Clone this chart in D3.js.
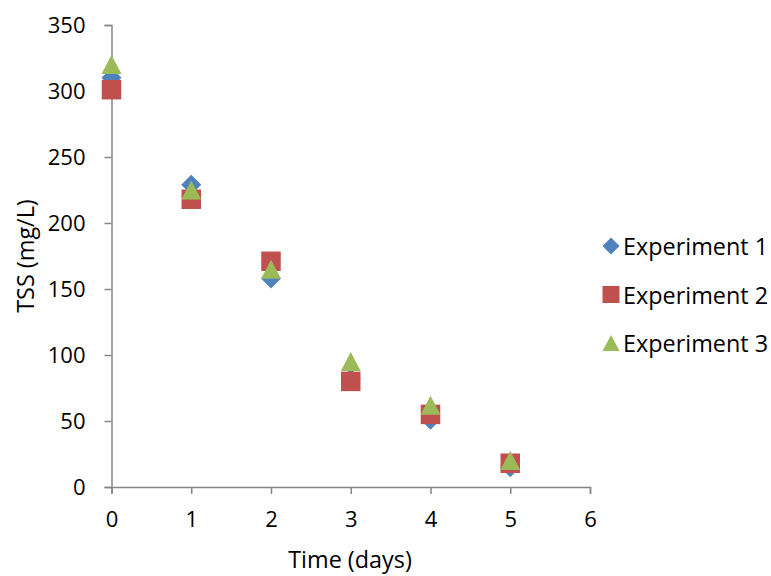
<!DOCTYPE html>
<html>
<head>
<meta charset="utf-8">
<style>
body { margin: 0; background: #ffffff; }
.tick text { font-family: "Open Sans", Arial, sans-serif; font-size: 22px; fill: #000; }
.lbl { font-family: "Open Sans", Arial, sans-serif; font-size: 23.4px; fill: #000; }
</style>
<script src="https://d3js.org/d3.v7.min.js"></script>
</head>
<body>
<script>
var days = [0, 1, 2, 3, 4, 5];
var exp1 = [310, 229, 158, 82, 51, 15];
var exp2 = [301, 218, 171, 80, 55, 18];
var exp3 = [320, 225, 165, 95, 62, 20];
var seriesNames = ["Experiment 1", "Experiment 2", "Experiment 3"];
var xTicks = [0, 1, 2, 3, 4, 5, 6];
var yTicks = [0, 50, 100, 150, 200, 250, 300, 350];

var width = 771, height = 576;
var colors = ["#4f81bd", "#c0504d", "#9bbb59"];

// excel-like markers, size = w*w where w is the marker width in px
var diamond = { draw: function(c, size) {
  var r = Math.sqrt(size) / 2;
  c.moveTo(0, -r); c.lineTo(r, 0); c.lineTo(0, r); c.lineTo(-r, 0); c.closePath();
}};
var square = { draw: function(c, size) {
  var r = Math.sqrt(size) / 2;
  c.rect(-r, -r, 2 * r, 2 * r);
}};
var triangle = { draw: function(c, size) {
  var r = Math.sqrt(size) / 2, h = r * 0.95;
  c.moveTo(0, -h); c.lineTo(r, h); c.lineTo(-r, h); c.closePath();
}};
var symbols = [diamond, square, triangle];
var widths = [20, 19.5, 20];

var svg = d3.select("body").append("svg")
  .attr("width", width).attr("height", height);

var x = d3.scaleLinear().domain([0, 6]).range([111.5, 590]);
var y = d3.scaleLinear().domain([0, 350]).range([487, 25]);

var xAxis = svg.append("g")
  .attr("transform", "translate(0," + y(0) + ")")
  .call(d3.axisBottom(x).tickValues(xTicks).tickSize(7).tickPadding(17).tickFormat(d3.format("d")));
var yAxis = svg.append("g")
  .attr("transform", "translate(" + x(0) + ",0)")
  .call(d3.axisLeft(y).tickValues(yTicks).tickSize(7).tickPadding(19).tickFormat(d3.format("d")));

[xAxis, yAxis].forEach(function(a) {
  a.select(".domain").attr("stroke", "#868686").attr("stroke-width", 1.5);
  a.selectAll(".tick line").attr("stroke", "#868686").attr("stroke-width", 1.5);
});

svg.append("text").attr("class", "lbl")
  .attr("x", 350).attr("y", 568)
  .attr("text-anchor", "middle")
  .text("Time (days)");

svg.append("text").attr("class", "lbl")
  .attr("transform", "translate(34,256) rotate(-90)")
  .attr("text-anchor", "middle")
  .text("TSS (mg/L)");

var allSeries = [exp1, exp2, exp3];

allSeries.forEach(function(vals, s) {
  svg.append("g").selectAll("path")
    .data(vals)
    .enter().append("path")
    .attr("d", d3.symbol().type(symbols[s]).size(widths[s] * widths[s]))
    .attr("transform", function(d, i) {
      return "translate(" + x(days[i]) + "," + y(d) + ")";
    })
    .attr("fill", colors[s]);
});

var legend = svg.append("g");
seriesNames.forEach(function(name, s) {
  var ly = 246 + s * 48.5;
  legend.append("path")
    .attr("d", d3.symbol().type(symbols[s]).size(17 * 17))
    .attr("transform", "translate(611," + ly + ")")
    .attr("fill", colors[s]);
  legend.append("text").attr("class", "lbl")
    .attr("x", 623).attr("y", ly + 9)
    .text(name);
});
</script>
</body>
</html>
